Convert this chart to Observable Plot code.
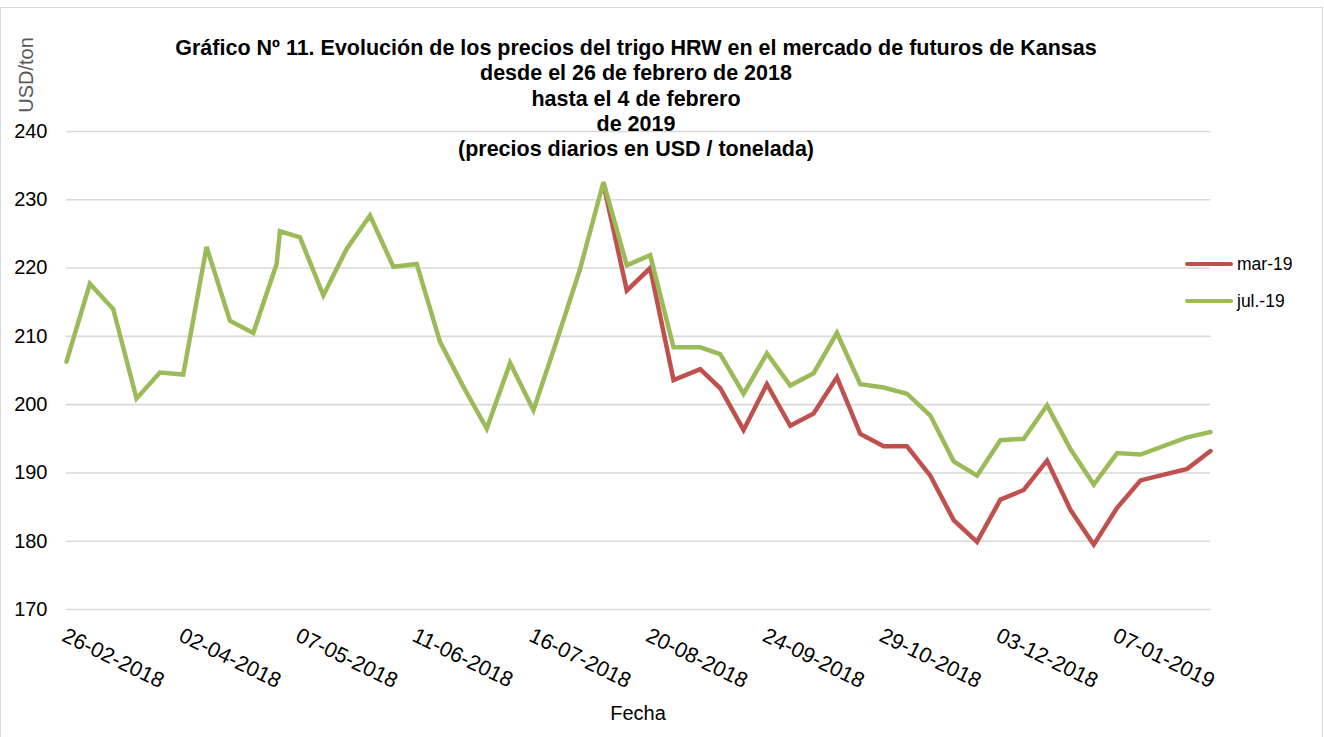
<!DOCTYPE html>
<html>
<head>
<meta charset="utf-8">
<script src="https://cdn.jsdelivr.net/npm/d3@7"></script>
<script src="https://cdn.jsdelivr.net/npm/@observablehq/plot@0.6"></script>
<style>
  body { margin: 0; background: #fff; font-family: "Liberation Sans", Arial, sans-serif; }
  #wrap { position: relative; width: 1324px; height: 737px; overflow: hidden; background: #fff; }
  #frame { position: absolute; left: 0; top: 7px; width: 1323px; height: 745px; border: 1.5px solid #d9d9d9; box-sizing: border-box; pointer-events: none; }
  #chart { position: absolute; left: 0; top: 0; }
  #title { position: absolute; left: 136px; width: 1000px; top: 36px; text-align: center; font-weight: bold; font-size: 21.5px; line-height: 25.3px; color: #000; }
  #ylab { position: absolute; left: 26px; top: 75px; transform: translate(-50%, -50%) rotate(-90deg); font-size: 20px; color: #595959; white-space: nowrap; }
  #xlab { position: absolute; left: 638px; top: 713px; transform: translate(-50%, -50%); font-size: 20px; color: #000; white-space: nowrap; }
  .leg { position: absolute; left: 1185px; height: 0; }
  .leg .sw { position: absolute; left: 0; top: -2.25px; width: 48px; height: 4.5px; border-radius: 2.25px; }
  .leg .tx { position: absolute; left: 52px; top: -11px; font-size: 17.5px; line-height: 22px; color: #000; white-space: nowrap; }
</style>
</head>
<body>
<div id="wrap">
  <div id="chart"></div>
  <div id="frame"></div>
  <div id="title"></div>
  <div id="ylab">USD/ton</div>
  <div id="xlab">Fecha</div>
  <div id="legend"></div>
</div>
<script>
// ---- Data ----
const titleLines = [
  "Gráfico Nº 11. Evolución de los precios del trigo HRW en el mercado de futuros de Kansas",
  "desde el 26 de febrero de 2018",
  "hasta el 4 de febrero",
  "de 2019",
  "(precios diarios en USD / tonelada)"
];

const julDates = [
  "2018-02-26","2018-03-05","2018-03-12","2018-03-19","2018-03-26","2018-04-02","2018-04-09",
  "2018-04-16","2018-04-23","2018-04-30","2018-05-01","2018-05-07","2018-05-14","2018-05-21",
  "2018-05-28","2018-06-04","2018-06-11","2018-06-18","2018-06-25","2018-07-02","2018-07-09",
  "2018-07-16","2018-07-23","2018-07-30","2018-08-06","2018-08-13","2018-08-20","2018-08-27",
  "2018-09-04","2018-09-10","2018-09-17","2018-09-24","2018-10-01","2018-10-08","2018-10-15",
  "2018-10-22","2018-10-29","2018-11-05","2018-11-12","2018-11-19","2018-11-26","2018-12-03",
  "2018-12-10","2018-12-17","2018-12-24","2018-12-31","2019-01-07","2019-01-14","2019-01-28",
  "2019-02-04"
];
const jul19 = [
  206.3, 217.7, 214.0, 200.9, 204.7, 204.4, 223.1,
  212.3, 210.5, 220.6, 225.4, 224.5, 216.0, 222.8,
  227.7, 220.2, 220.6, 209.2, 202.6, 196.5, 206.1,
  199.2, 209.4, 219.9, 232.6, 220.4, 221.9, 208.4,
  208.4, 207.4, 201.6, 207.5, 202.8, 204.6, 210.5,
  203.0, 202.5, 201.6, 198.4, 191.7, 189.6, 194.8,
  195.0, 199.9, 193.5, 188.3, 192.9, 192.7, 195.2,
  196.0
];

const marDates = [
  "2018-08-06","2018-08-13","2018-08-20","2018-08-27","2018-09-04","2018-09-10","2018-09-17",
  "2018-09-24","2018-10-01","2018-10-08","2018-10-15","2018-10-22","2018-10-29","2018-11-05",
  "2018-11-12","2018-11-19","2018-11-26","2018-12-03","2018-12-10","2018-12-17","2018-12-24",
  "2018-12-31","2019-01-07","2019-01-14","2019-01-28","2019-02-04"
];
const mar19 = [
  232.3, 216.7, 220.0, 203.6, 205.2, 202.4, 196.3,
  203.0, 196.9, 198.7, 204.0, 195.7, 193.9, 193.9,
  189.6, 183.1, 179.9, 186.1, 187.5, 191.8, 184.6,
  179.5, 184.9, 188.9, 190.6, 193.2
];

const xTickLabels = ["26-02-2018","02-04-2018","07-05-2018","11-06-2018","16-07-2018",
                     "20-08-2018","24-09-2018","29-10-2018","03-12-2018","07-01-2019"];
const yTicks = [170, 180, 190, 200, 210, 220, 230, 240];
const xDomain = ["2018-02-26", "2019-02-04"];

const seriesNames = ["mar-19", "jul.-19"];
const seriesColors = ["#C0504D", "#9BBB59"];

// ---- Build ----
const parse = d3.utcParse("%Y-%m-%d");
const parseTick = d3.utcParse("%d-%m-%Y");
const green = julDates.map((d, i) => ({date: parse(d), value: jul19[i]}));
const red = marDates.map((d, i) => ({date: parse(d), value: mar19[i]}));
const ticks = xTickLabels.map(t => ({date: parseTick(t), label: t}));

document.getElementById("title").innerHTML = titleLines.map(t => `<div>${t}</div>`).join("");

const chart = Plot.plot({
  width: 1324,
  height: 737,
  marginLeft: 66,
  marginRight: 114,
  marginTop: 131,
  marginBottom: 128,
  style: {fontFamily: '"Liberation Sans", Arial, sans-serif', background: "transparent"},
  x: {type: "utc", domain: xDomain.map(parse), axis: null},
  y: {domain: [170, 240], axis: null},
  marks: [
    Plot.ruleY(yTicks, {y: d => d, stroke: "#d9d9d9", strokeWidth: 1.6}),
    Plot.text(yTicks, {y: d => d, text: d => String(d), frameAnchor: "left", dx: -19, textAnchor: "end", fontSize: 20, fill: "#000"}),
    Plot.text(ticks, {x: "date", text: "label", frameAnchor: "bottom", dy: 17, dx: 1, rotate: 26, textAnchor: "start", lineAnchor: "top", fontSize: 21.5, fill: "#000"}),
    Plot.line(red, {x: "date", y: "value", stroke: seriesColors[0], strokeWidth: 4.5, strokeLinejoin: "miter", strokeMiterlimit: 3}),
    Plot.line(green, {x: "date", y: "value", stroke: seriesColors[1], strokeWidth: 4.5, strokeLinejoin: "miter", strokeMiterlimit: 3})
  ]
});
document.getElementById("chart").appendChild(chart);

const legendY = [264, 301];
document.getElementById("legend").innerHTML = seriesNames.map((n, i) =>
  `<div class="leg" style="top:${legendY[i]}px"><div class="sw" style="background:${seriesColors[i]}"></div><div class="tx">${n}</div></div>`
).join("");
</script>
</body>
</html>
